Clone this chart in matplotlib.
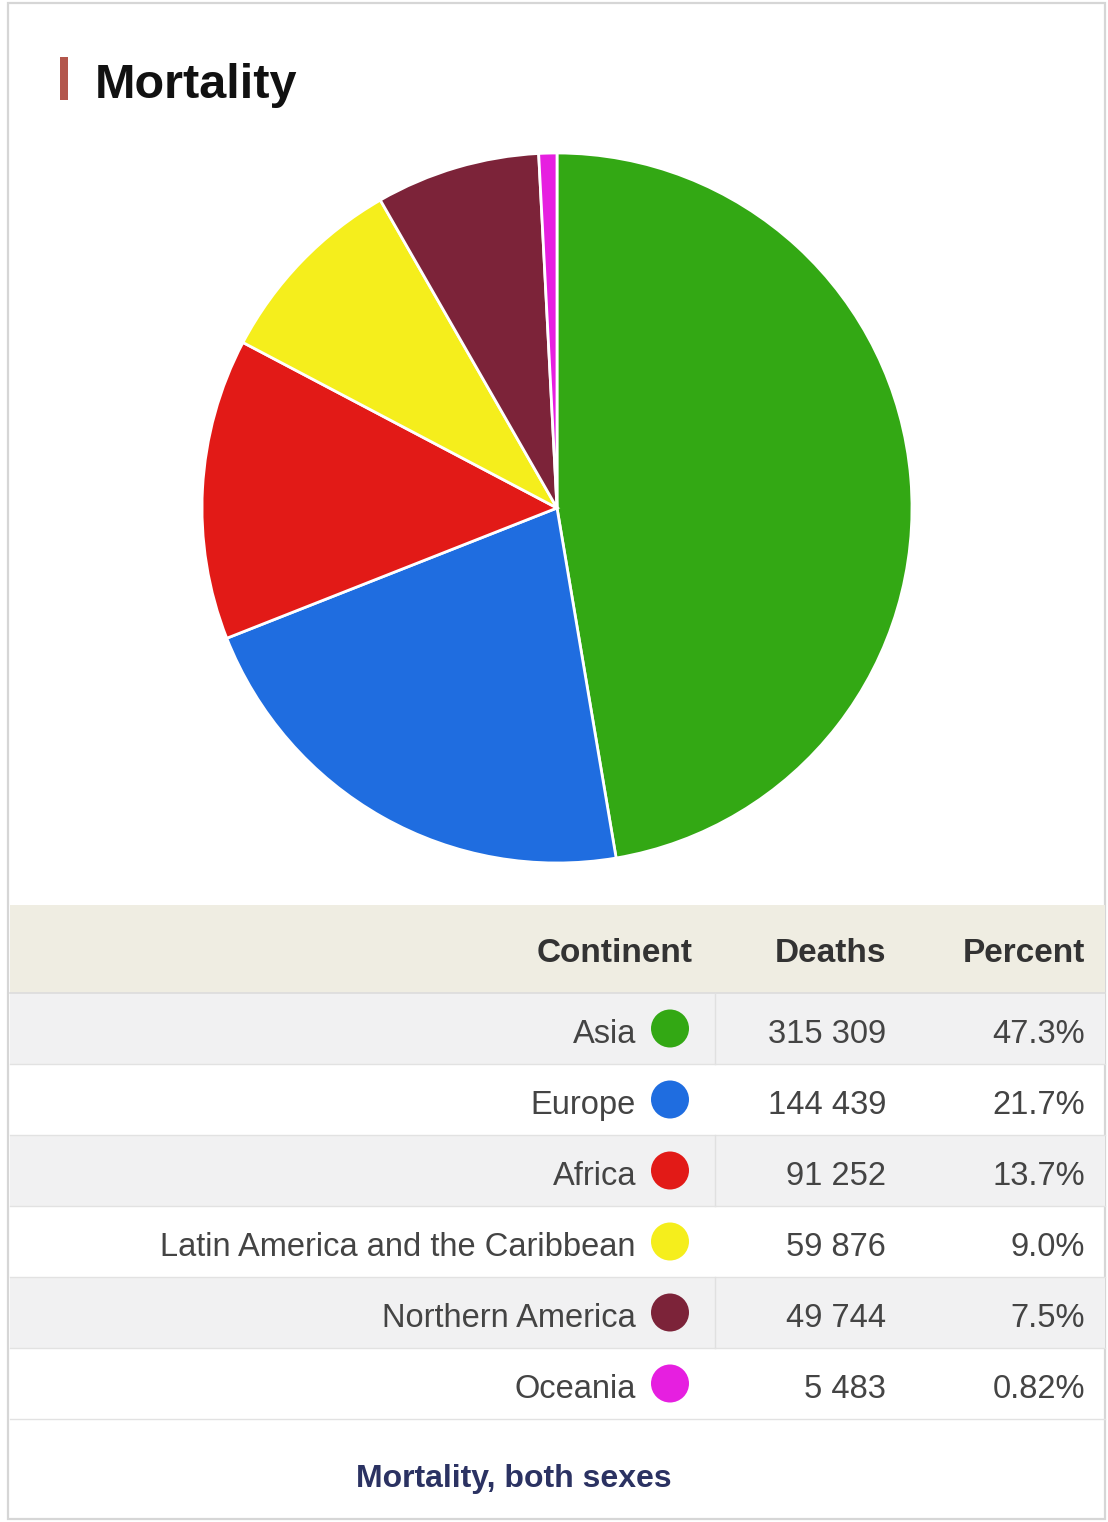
import matplotlib
matplotlib.use("Agg")
import matplotlib.pyplot as plt
from matplotlib.patches import Rectangle, Circle

# mortality by continent
continents = ["Asia", "Europe", "Africa", "Latin America and the Caribbean",
              "Northern America", "Oceania"]
deaths = [315309, 144439, 91252, 59876, 49744, 5483]
percents = ["47.3%", "21.7%", "13.7%", "9.0%", "7.5%", "0.82%"]
colors = ["#33a814", "#1f6de0", "#e21a17", "#f5ee1c", "#7c2339", "#e61fe0"]

W, H = 1108, 1522
FONT = ["Liberation Sans", "DejaVu Sans"]


def fmt_deaths(v):
    return "{:,}".format(v).replace(",", " ")


fig = plt.figure(figsize=(W / 100, H / 100), dpi=100)
fig.patch.set_facecolor("white")

# background axes in pixel units
ax = fig.add_axes([0, 0, 1, 1])
ax.set_xlim(0, W)
ax.set_ylim(H, 0)
ax.axis("off")

# card outline
ax.add_patch(Rectangle((8, 3), 1097, 1516, facecolor="white",
                       edgecolor="#d6d6d6", lw=1.6, zorder=0))

# title with accent bar
ax.add_patch(Rectangle((60, 57), 8, 43, facecolor="#b3564c", lw=0, zorder=2))
ax.text(95, 98, "Mortality", fontsize=35, fontweight="bold", color="#111111",
        family=FONT, ha="left", va="baseline")

# table header
x0, x1 = 10, 1105
head_top, head_bot = 905, 993
row_h = 71
ax.add_patch(Rectangle((x0, head_top), x1 - x0, head_bot - head_top,
                       facecolor="#efede2", lw=0, zorder=1))
ax.plot([x0, x1], [head_bot, head_bot], color="#dcdcdc", lw=1.2, zorder=2)

col_name, col_dot, col_deaths, col_pct = 636, 670, 886, 1085
hy = (head_top + head_bot) / 2 + 13
for label, xr in [("Continent", 693), ("Deaths", col_deaths), ("Percent", col_pct)]:
    ax.text(xr, hy, label, fontsize=24, fontweight="bold", color="#333333",
            family=FONT, ha="right", va="baseline")

# table rows
for i, name in enumerate(continents):
    top = head_bot + i * row_h
    yc = top + row_h / 2
    yb = yc + 14.5
    if i % 2 == 0:
        ax.add_patch(Rectangle((x0, top), x1 - x0, row_h, facecolor="#f1f1f2",
                               lw=0, zorder=1))
        ax.plot([715, 715], [top, top + row_h], color="#e0e0e0", lw=1.0, zorder=2)
    ax.plot([x0, x1], [top + row_h, top + row_h], color="#e2e2e2", lw=1.0, zorder=2)
    ax.text(col_name, yb, name, fontsize=23.5, color="#444444", family=FONT,
            ha="right", va="baseline")
    ax.add_patch(Circle((col_dot, yc), 19, facecolor=colors[i], lw=0, zorder=3))
    ax.text(col_deaths, yb, fmt_deaths(deaths[i]), fontsize=23.5, color="#444444",
            family=FONT, ha="right", va="baseline")
    ax.text(col_pct, yb, percents[i], fontsize=23.5, color="#444444",
            family=FONT, ha="right", va="baseline")

# footer caption
ax.text(514, 1479, "Mortality, both sexes", fontsize=23, fontweight="bold",
        color="#2b3262", family=FONT, ha="center", va="center")

# pie chart, centred at (557, 508) px with a 355 px radius
cx, cy, r = 557, 508, 355
span = 1.25 * r
pax = fig.add_axes([(cx - span) / W, 1 - (cy + span) / H, 2 * span / W, 2 * span / H])
pax.pie(deaths, colors=colors, startangle=90, counterclock=False,
        wedgeprops=dict(edgecolor="white", linewidth=2))
pax.set_xlim(-1.25, 1.25)
pax.set_ylim(-1.25, 1.25)
pax.axis("off")

fig.savefig("out.png", dpi=100, facecolor="white")
